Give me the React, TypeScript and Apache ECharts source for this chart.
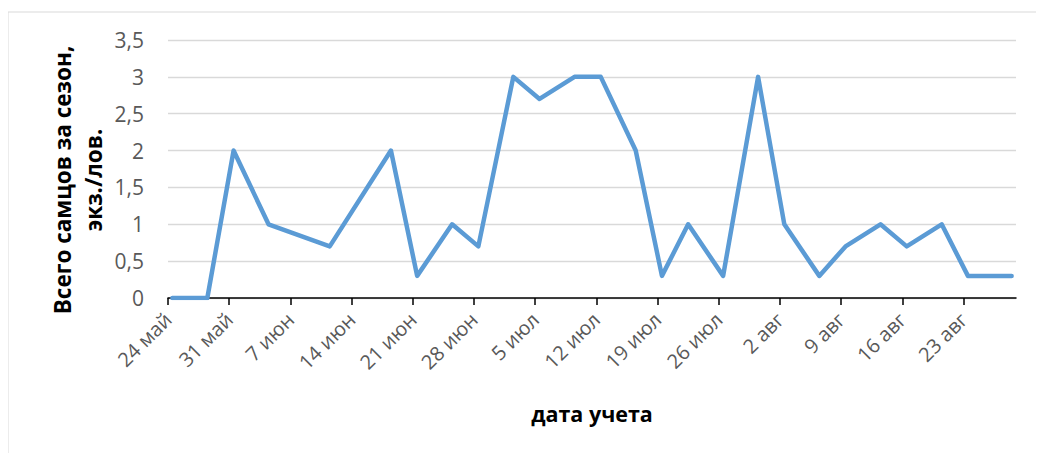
import React, { useEffect, useRef } from "react";
import * as echarts from "echarts";

const axisStart = "24.05";
const axisEnd = "29.08";
const dates = ["24.05","28.05","31.05","04.06","11.06","18.06","21.06","25.06","28.06","02.07","05.07","09.07","12.07","16.07","19.07","22.07","26.07","30.07","02.08","06.08","09.08","13.08","16.08","20.08","23.08","28.08"];
const values = [0,0,2,1,0.7,2,0.3,1,0.7,3,2.7,3,3,2,0.3,1,0.3,3,1,0.3,0.7,1,0.7,1,0.3,0.3];
const tickLabels = ["24 май","31 май","7 июн","14 июн","21 июн","28 июн","5 июл","12 июл","19 июл","26 июл","2 авг","9 авг","16 авг","23 авг"];
const tickStepDays = 7;
const yTitle = "Всего самцов за сезон,\nэкз./лов.";
const xTitle = "дата учета";

const DAY = 86400000;
const toTime = (s: string) => {
  const [d, m] = s.split(".").map(Number);
  return Date.UTC(2000, m - 1, d);
};
const dayOffset = (s: string) => Math.round((toTime(s) - toTime(axisStart)) / DAY);

export default function App() {
  const ref = useRef<HTMLDivElement>(null);
  useEffect(() => {
    if (!ref.current) return;
    const chart = echarts.init(ref.current, undefined, { renderer: "svg" });
    const tickPos = tickLabels.map((_, i) => i * tickStepDays);
    const font = "'Open Sans', sans-serif";
    chart.setOption({
      animation: false,
      grid: { left: 160, right: 28, top: 32, bottom: 155, containLabel: false },
      graphic: [
        {
          type: "rect",
          shape: { x: 0, y: 4, width: 1100, height: 600 },
          style: { fill: "none", stroke: "#d9d9d9", lineWidth: 1 },
          silent: true,
        },
        {
          type: "text",
          x: 70,
          y: 172,
          rotation: Math.PI / 2,
          style: {
            text: yTitle,
            font: `bold 22.5px ${font}`,
            fill: "#000",
            textAlign: "center",
            textVerticalAlign: "middle",
            lineHeight: 31,
          },
        },
        {
          type: "text",
          x: 584,
          y: 405,
          style: {
            text: xTitle,
            font: `bold 21.5px ${font}`,
            fill: "#000",
            textAlign: "center",
            textVerticalAlign: "middle",
          },
        },
      ],
      xAxis: {
        type: "value",
        min: 0,
        max: dayOffset(axisEnd),
        interval: tickStepDays,
        axisLine: { show: true, lineStyle: { color: "#000", width: 1.5 } },
        axisTick: { show: true, length: 7, lineStyle: { color: "#000", width: 1.5 }, customValues: tickPos },
        splitLine: { show: false },
        axisLabel: {
          customValues: tickPos,
          rotate: 45,
          margin: 18,
          color: "#595959",
          fontFamily: font,
          fontSize: 20,
          formatter: (v: number) => tickLabels[Math.round(v / tickStepDays)] ?? "",
        },
      },
      yAxis: {
        type: "value",
        min: 0,
        max: 3.5,
        interval: 0.5,
        axisLine: { show: false },
        axisTick: { show: false },
        splitLine: { show: true, lineStyle: { color: "#d9d9d9", width: 1.3 } },
        axisLabel: {
          color: "#595959",
          fontFamily: font,
          fontSize: 21,
          margin: 24,
          formatter: (v: number) => String(v).replace(".", ","),
        },
      },
      series: [
        {
          type: "line",
          data: dates.map((d, i) => [dayOffset(d) + 0.5, values[i]]),
          showSymbol: false,
          symbol: "none",
          lineStyle: { color: "#5b9bd5", width: 4.5, cap: "round", join: "round" },
          itemStyle: { color: "#5b9bd5" },
        },
      ],
    });
    return () => chart.dispose();
  }, []);
  return <div ref={ref} style={{ width: 1036, height: 445 }} />;
}
